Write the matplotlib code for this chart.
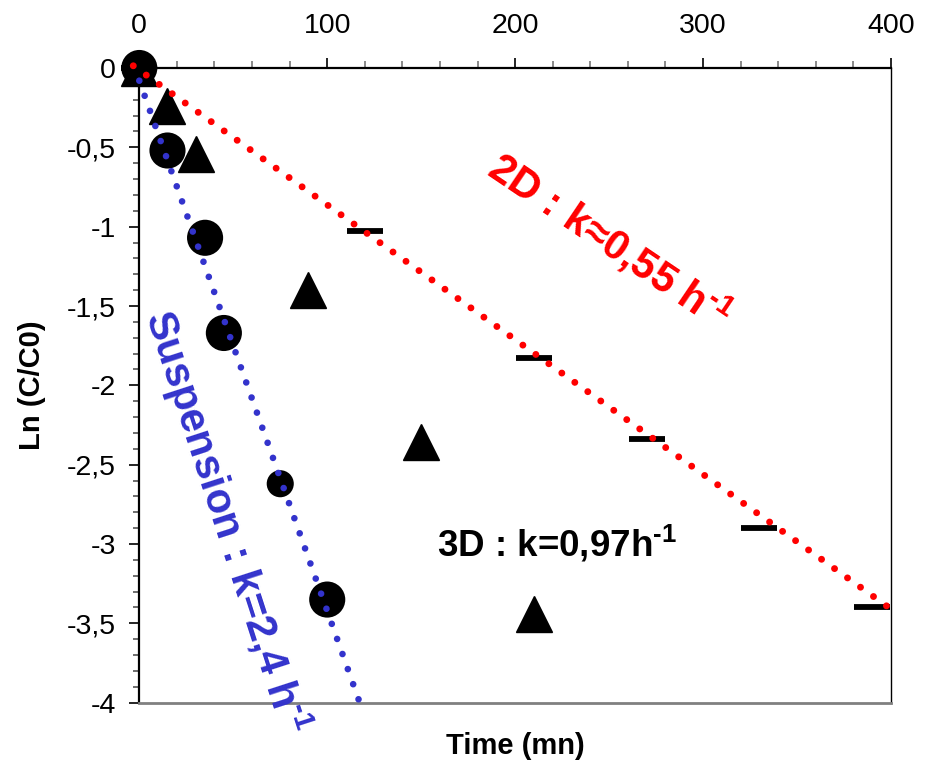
import matplotlib
matplotlib.use("Agg")
import matplotlib.pyplot as plt
from matplotlib.ticker import MultipleLocator, FixedLocator

plt.rcParams['font.family'] = ['Liberation Sans', 'DejaVu Sans']
plt.rcParams['mathtext.fontset'] = 'custom'
plt.rcParams['mathtext.rm'] = 'Liberation Sans:bold'
plt.rcParams['mathtext.bf'] = 'Liberation Sans:bold'
plt.rcParams['mathtext.default'] = 'regular'

# ---- data ----
susp_t = [0, 15, 35, 45, 75, 100]
susp_y = [0.0, -0.52, -1.07, -1.67, -2.62, -3.35]

d3_t = [0, 15, 30, 90, 150, 210]
d3_y = [0.0, -0.24, -0.54, -1.40, -2.36, -3.44]

d2_t = [0, 120, 210, 270, 330, 390]
d2_y = [0.0, -1.03, -1.83, -2.34, -2.90, -3.40]

fit2d_t = [-3.2, 400]
fit2d_y = [0.014, -3.41]

fitsusp_t = [0, 117]
fitsusp_y = [-0.08, -3.99]

x_ticks = [0, 100, 200, 300, 400]
x_ticklabels = ['0', '100', '200', '300', '400']
y_ticks = [0, -0.5, -1, -1.5, -2, -2.5, -3, -3.5, -4]
y_ticklabels = ['0', '-0,5', '-1', '-1,5', '-2', '-2,5', '-3', '-3,5', '-4']

# ---- style ----
BLUE = '#3333CC'
RED = '#FF0000'
susp_ms = [26, 26, 26, 26, 19.5, 26]

W, H = 927, 763
fig = plt.figure(figsize=(W / 100, H / 100), dpi=100)
L, R, T, B = 139.3, 891.0, 68.0, 702.7
ax = fig.add_axes([L / W, 1 - B / H, (R - L) / W, (B - T) / H])
ax.set_xlim(0, 400)
ax.set_ylim(-4, 0)

# markers
ax.plot(d3_t, d3_y, linestyle='none', marker='^', ms=26.6, color='black', zorder=3, clip_on=False)
ax.scatter(susp_t, susp_y, s=[m ** 2 for m in susp_ms], marker='o', color='black',
           linewidths=0, zorder=4, clip_on=False)
ax.plot(d2_t, d2_y, linestyle='none', marker='_', ms=26.6, mew=4.2, color='black', zorder=3, clip_on=False)

# fit lines (dotted)
ax.plot(fit2d_t, fit2d_y, color=RED, lw=5.0, linestyle=(0, (0.001, 2.3)),
        dash_capstyle='round', zorder=5, clip_on=False)
ax.plot(fitsusp_t, fitsusp_y, color=BLUE, lw=4.8, linestyle=(0, (0.001, 2.4)),
        dash_capstyle='round', zorder=5, clip_on=False)

# ticks
ax.xaxis.tick_top()
ax.xaxis.set_major_locator(FixedLocator(x_ticks))
ax.set_xticklabels(x_ticklabels)
ax.xaxis.set_minor_locator(MultipleLocator(20))
ax.yaxis.set_major_locator(FixedLocator(y_ticks))
ax.set_yticklabels(y_ticklabels)
ax.yaxis.set_minor_locator(MultipleLocator(0.1))

ax.tick_params(axis='x', which='major', direction='out', length=7, width=1.2,
               labelsize=20.5, pad=14, top=True, bottom=False, colors='black')
ax.tick_params(axis='x', which='minor', direction='out', length=5, width=1.2,
               top=True, bottom=False, color='#777777')
ax.tick_params(axis='y', which='major', direction='out', length=7, width=1.2,
               labelsize=20.5, pad=10, colors='black')
ax.tick_params(axis='y', which='minor', direction='out', length=4.5, width=1.2,
               color='#555555')

for side in ['left', 'top']:
    ax.spines[side].set_color('black')
    ax.spines[side].set_linewidth(1.6)
ax.spines['right'].set_color('black')
ax.spines['right'].set_linewidth(1.0)
ax.spines['bottom'].set_color('#808080')
ax.spines['bottom'].set_linewidth(2.0)

# axis labels
ax.set_xlabel('Time (mn)', fontsize=21, fontweight='bold')
ax.xaxis.set_label_position('bottom')
ax.xaxis.label.set_va('center')
ax.xaxis.set_label_coords(0.5, (B - 746) / (B - T))
ax.set_ylabel('Ln (C/C0)', fontsize=21, fontweight='bold')
ax.yaxis.label.set_va('center')
ax.yaxis.set_label_coords((32 - L) / (R - L), 0.5)

# annotations
ax.text(250, -1.09, r'2D : k≈0,55 h$^{\text{-1}}$', color=RED, fontsize=30, fontweight='bold',
        rotation=-34, rotation_mode='anchor', ha='center', va='center')
ax.text(46.0, -2.86, r'Suspension : k=2,4 h$^{\text{-1}}$', color=BLUE, fontsize=30,
        fontweight='bold', rotation=-72, rotation_mode='anchor', ha='center', va='center')
ax.text(158.4, -3.08, r'3D : k=0,97h$^{\text{-1}}$', color='black', fontsize=26.5,
        fontweight='bold', ha='left', va='baseline')

fig.savefig('out.png', dpi=100)
